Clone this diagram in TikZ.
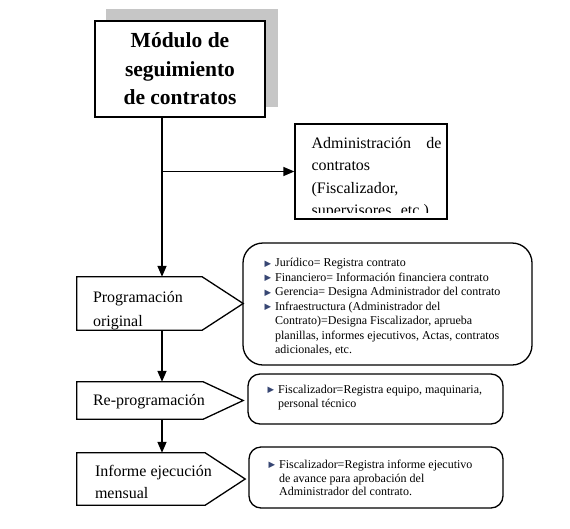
\documentclass[tikz,border=0pt]{standalone}
\usepackage{fontspec}
\setmainfont{Liberation Serif}
\newfontfamily\symfont{DejaVu Sans}
\usetikzlibrary{arrows.meta,positioning,backgrounds}
\definecolor{bulnavy}{RGB}{55,70,115}
\newcommand{\bul}{\raisebox{0.3pt}{\symfont\fontsize{8.5}{8.5}\selectfont\textcolor{bulnavy}{▶}}}
\tikzset{
  edge/.style={draw, line width=1.3pt},
  arr/.style={-{Triangle[length=11pt,width=9pt]}, line width=1.4pt},
  body/.style={rectangle, inner sep=0pt},
  stagetxt/.style={anchor=north west, inner sep=0pt, align=left, font=\fontsize{16}{24}\selectfont},
  rbox/.style={draw, line width=1.3pt, rectangle, rounded corners=12pt, inner sep=0pt},
  list/.style={anchor=north west, inner sep=0pt, font=\fontsize{12}{13.8}\selectfont},
}
\begin{document}
\begin{tikzpicture}[x=1pt,y=-1pt]
\useasboundingbox (0,0) rectangle (570,528);
\newcommand{\pentbox}[2]{\draw[edge] (#1.north west) -- (#1.north east) -- ([xshift=#2]#1.east) -- (#1.south east) -- (#1.south west) -- cycle;}
\node[draw, line width=1.6pt, fill=white, minimum width=170pt, minimum height=96pt, inner sep=0pt, align=center, font=\fontsize{21.5}{28.5}\selectfont\bfseries] (main) at (180,69) {Módulo de\\seguimiento\\de contratos};
\begin{scope}[on background layer]
\fill[gray!45] ([xshift=12pt,yshift=11pt]main.south west) rectangle ([xshift=12pt,yshift=11pt]main.north east);
\end{scope}
\node[edge, body, minimum width=152pt, minimum height=95pt] (admin) at (371,171.5) {};
\begin{scope}
\clip (admin.north west) rectangle ([yshift=7pt]admin.south east);
\node[anchor=north west, inner sep=0pt, align=left, text width=130pt, font=\fontsize{16}{22.5}\selectfont] (admintxt) at ([xshift=17pt,yshift=-9pt]admin.north west) {\strut Administración\hfill de\\contratos\\(Fiscalizador,\\supervisores, etc.)};
\end{scope}
\node[body, minimum width=125pt, minimum height=53pt] (prog) at (139.5,303.5) {};
\pentbox{prog}{41pt}
\node[stagetxt] (progtxt) at ([xshift=16pt,yshift=-9pt]prog.north west) {\strut Programación\\original};
\node[body, minimum width=126pt, minimum height=37pt] (reprog) at (140,400.5) {};
\pentbox{reprog}{40pt}
\node[stagetxt] (reprogtxt) at ([xshift=16pt,yshift=-7pt]reprog.north west) {\strut Re-programación};
\node[body, minimum width=128pt, minimum height=52pt] (inform) at (141,479) {};
\pentbox{inform}{40pt}
\node[stagetxt, font=\fontsize{16}{22}\selectfont] (informtxt) at ([xshift=18pt,yshift=-8.5pt]inform.north west) {\strut Informe ejecución\\mensual};
\node[rbox, rounded corners=20pt, minimum width=289pt, minimum height=122pt] (r1) at (387.5,304) {};
\node[list, font=\fontsize{12}{14.5}\selectfont] (l1) at ([xshift=22pt,yshift=-14pt]r1.north west) {\begin{tabular}{@{}l@{\hspace{4pt}}l@{}}
\bul & Jurídico= Registra contrato\\
\bul & Financiero= Información financiera contrato\\
\bul & Gerencia= Designa Administrador del contrato\\
\bul & Infraestructura (Administrador del\\
 & Contrato)=Designa Fiscalizador, aprueba\\
 & planillas, informes ejecutivos, Actas, contratos\\
 & adicionales, etc.
\end{tabular}};
\node[rbox, minimum width=255pt, minimum height=50pt] (r2) at (375.5,399) {};
\node[list] (l2) at ([xshift=20pt,yshift=-10pt]r2.north west) {\begin{tabular}{@{}l@{\hspace{4pt}}l@{}}
\bul & Fiscalizador=Registra equipo, maquinaria,\\
 & personal técnico
\end{tabular}};
\node[rbox, minimum width=254pt, minimum height=61pt] (r3) at (376,477.5) {};
\node[list] (l3) at ([xshift=20pt,yshift=-12pt]r3.north west) {\begin{tabular}{@{}l@{\hspace{4pt}}l@{}}
\bul & Fiscalizador=Registra informe ejecutivo\\
 & de avance para aprobación del\\
 & Administrador del contrato.
\end{tabular}};
\coordinate (trunk) at (main.south -| 162,0);
\draw[arr] (trunk) -- (trunk |- prog.north);
\draw[arr] (trunk |- admin.west) -- (admin.west);
\draw[arr] (trunk |- prog.south) -- (trunk |- reprog.north);
\draw[arr] (trunk |- reprog.south) -- (trunk |- inform.north);
\end{tikzpicture}
\end{document}
